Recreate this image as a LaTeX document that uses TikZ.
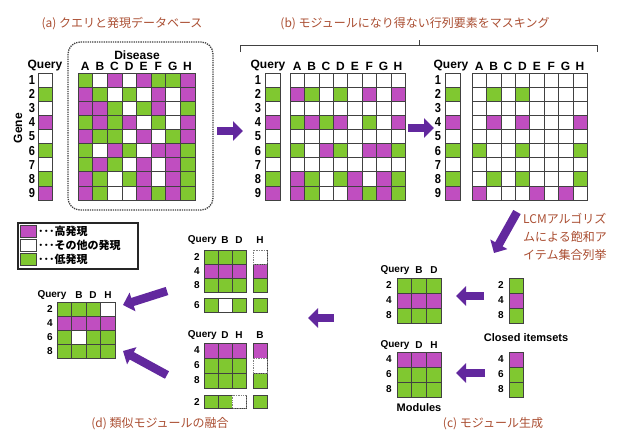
\documentclass[tikz,border=0pt]{standalone}
\usepackage{fontspec}
\setmainfont{Liberation Sans}
\newfontfamily\jp{Noto Sans CJK JP}
\usetikzlibrary{arrows.meta}
\definecolor{M}{RGB}{192,78,192}
\definecolor{G}{RGB}{128,200,48}
\definecolor{W}{RGB}{255,255,255}
\definecolor{titlec}{RGB}{170,78,50}
\definecolor{arrowc}{RGB}{98,40,158}
\definecolor{gridc}{RGB}{65,65,65}
\newcommand{\mgrid}[5]{%
  \foreach \rowlist [count=\ri from 0] in {#5} {
    \foreach \cc [count=\ci from 0] in \rowlist {
      \filldraw[cell, fill=\cc] ({#1+\ci*#3},{#2+\ri*#4}) rectangle ++(#3,#4);
    }
  }
}
\newcommand{\dcell}[4]{\filldraw[fill=white, draw=gray, densely dotted, line width=0.7pt] (#1,#2) rectangle ++(#3,#4);}
\begin{document}
\begin{tikzpicture}[x=1pt,y=-1pt,
  cell/.style={draw=gridc, line width=0.6pt},
  lab/.style={font=\bfseries\fontsize{12}{12}\selectfont, inner sep=0pt},
  num/.style={font=\bfseries\fontsize{13}{13}\selectfont, inner sep=0pt, xscale=0.85},
  slab/.style={font=\bfseries\fontsize{10}{10}\selectfont, inner sep=0pt},
  title/.style={font=\jp\fontsize{12}{12}\selectfont, text=titlec, inner sep=0pt},
  legtext/.style={font=\jp\bfseries\fontsize{11}{11}\selectfont, anchor=west, inner sep=0pt},
  barrow/.style={draw=arrowc, line width=8.5pt, -{Triangle[length=10pt,width=19pt]}},
]
\useasboundingbox (0,0) rectangle (619,437);

% ---------- titles
\node[title] (ta) at (122,24) {(a) クエリと発現データベース};
\node[title] (tb) at (415,24) {(b) モジュールになり得ない行列要素をマスキング};
\node[title] (tc) at (493,424) {(c) モジュール生成};
\node[title] (td) at (160,424) {(d) 類似モジュールの融合};

% ---------- panel (a)
\draw[gridc, densely dotted, line width=1.3pt, rounded corners=12pt] (68,42) rectangle (213,210);
\node[lab] (adis) at (137,55) {Disease};
\node[lab] (aq) at (45,66) {Query};
\node[lab, rotate=90] (gene) at (18,128) {Gene};
\foreach \L [count=\i from 0] in {A,B,C,D,E,F,G,H}
  \node[lab] (acol\i) at ({78+14.6*\i+7.3},66) {\L};
\foreach \n [count=\i from 0] in {1,...,9}
  \node[num] (arow\i) at (32,{73+14.1*\i+7.05}) {\n};
\mgrid{38}{73}{14.5}{14.1}{{W},{G},{W},{M},{W},{G},{W},{G},{M}}
\mgrid{78}{73}{14.6}{14.1}{
 {G,W,M,W,M,G,G,M},
 {M,G,W,G,W,M,W,M},
 {M,M,G,W,G,M,W,G},
 {G,M,G,M,W,G,W,M},
 {M,G,G,W,M,W,G,M},
 {G,W,M,G,W,M,M,G},
 {G,M,G,W,M,W,M,G},
 {M,G,W,G,M,W,M,G},
 {M,G,W,W,M,G,M,G}}

% ---------- bracket (b)
\draw[gridc, line width=0.9pt] (240,52) -- (240,45) -- (597,45) -- (597,52);
\draw[gridc, line width=0.9pt] (419,45) -- (419,40);

% ---------- panel (b) first
\node[lab] (bq) at (268,66) {Query};
\foreach \L [count=\i from 0] in {A,B,C,D,E,F,G,H}
  \node[lab] (bcol\i) at ({290+14.4*\i+7.2},66) {\L};
\foreach \n [count=\i from 0] in {1,...,9}
  \node[num] (brow\i) at (258,{73+14.1*\i+7.05}) {\n};
\mgrid{265}{73}{15}{14.1}{{W},{G},{W},{M},{W},{G},{W},{G},{M}}
\mgrid{290}{73}{14.4}{14.1}{
 {W,W,W,W,W,W,W,W},
 {M,G,W,G,W,M,W,M},
 {W,W,W,W,W,W,W,W},
 {G,M,G,M,W,G,W,M},
 {W,W,W,W,W,W,W,W},
 {G,W,M,G,W,M,M,G},
 {W,W,W,W,W,W,W,W},
 {M,G,W,G,M,W,M,G},
 {M,G,W,W,M,G,M,G}}

% ---------- panel (b) second
\node[lab] (cq) at (451,66) {Query};
\foreach \L [count=\i from 0] in {A,B,C,D,E,F,G,H}
  \node[lab] (ccol\i) at ({472+14.4*\i+7.2},66) {\L};
\foreach \n [count=\i from 0] in {1,...,9}
  \node[num] (crow\i) at (438,{73+14.1*\i+7.05}) {\n};
\mgrid{445}{73}{15}{14.1}{{W},{G},{W},{M},{W},{G},{W},{G},{M}}
\mgrid{472}{73}{14.4}{14.1}{
 {W,W,W,W,W,W,W,W},
 {W,G,W,G,W,W,W,W},
 {W,W,W,W,W,W,W,W},
 {W,M,W,M,W,W,W,M},
 {W,W,W,W,W,W,W,W},
 {G,W,W,G,W,W,W,G},
 {W,W,W,W,W,W,W,W},
 {W,G,W,G,W,W,W,G},
 {M,W,W,W,M,W,M,W}}

% ---------- LCM text
\node[title, anchor=north west, align=left, font=\jp\fontsize{12}{18}\selectfont] (lcm) at (523,213) {LCMアルゴリズ\\ムによる飽和ア\\イテム集合列挙};

% ---------- panel (c): closed itemsets
\foreach \n/\y in {2/285,4/300,8/315} \node[slab] (k1\n) at (501,\y) {\n};
\mgrid{509}{278}{14}{15}{{G},{M},{G}}
\foreach \n/\y in {4/359,6/374,8/389} \node[slab] (k2\n) at (501,\y) {\n};
\mgrid{509}{352}{14}{15}{{M},{G},{G}}
\node[lab, font=\bfseries\fontsize{11}{11}\selectfont] (closed) at (526,338) {Closed itemsets};

% modules
\node[slab] (m1q) at (395,270) {Query};
\node[slab] (m1b) at (419,270) {B};
\node[slab] (m1d) at (434,270) {D};
\foreach \n/\y in {2/285,4/300,8/315} \node[slab] (m1r\n) at (389,\y) {\n};
\mgrid{397}{278}{14.7}{15}{{G,G,G},{M,M,M},{G,G,G}}
\node[slab] (m2q) at (395,345) {Query};
\node[slab] (m2d) at (419,345) {D};
\node[slab] (m2h) at (434,345) {H};
\foreach \n/\y in {4/359,6/374,8/389} \node[slab] (m2r\n) at (389,\y) {\n};
\mgrid{397}{352}{14.7}{15}{{M,M,M},{G,G,G},{G,G,G}}
\node[lab, font=\bfseries\fontsize{11}{11}\selectfont] (modules) at (419,408) {Modules};

% ---------- panel (d) middle
\node[slab, anchor=east] (x1q) at (217,240) {Query};
\node[slab] (x1b) at (225,240) {B};
\node[slab] (x1d) at (239,240) {D};
\node[slab] (x1h) at (260,240) {H};
\foreach \n/\y in {2/257,4/271,8/285,6/305} \node[slab] (x1r\n) at (197,\y) {\n};
\mgrid{204}{250}{14}{14}{{G,G,G},{M,M,M},{G,G,G}}
\mgrid{253}{250}{14}{14}{{W},{M},{G}}
\dcell{253}{250}{14}{14}
\mgrid{204}{298}{14}{14}{{G,W,G}}
\mgrid{253}{298}{14}{14}{{G}}

\node[slab, anchor=east] (x2q) at (217,335) {Query};
\node[slab] (x2d) at (225,335) {D};
\node[slab] (x2h) at (239,335) {H};
\node[slab] (x2b) at (260,335) {B};
\foreach \n/\y in {4/350,6/365,8/380,2/402} \node[slab] (x2r\n) at (197,\y) {\n};
\mgrid{204}{343}{14}{15}{{M,M,M},{G,G,G},{G,G,G}}
\mgrid{253}{343}{14}{15}{{M},{W},{G}}
\dcell{253}{358}{14}{15}
\mgrid{204}{395}{14}{13}{{G,G,W}}
\dcell{232}{395}{14}{13}
\mgrid{253}{395}{14}{13}{{G}}

% ---------- panel (d) result
\node[slab] (fq) at (52,295) {Query};
\node[slab] (fb) at (79,295) {B};
\node[slab] (fd) at (93,295) {D};
\node[slab] (fh) at (108,295) {H};
\foreach \n/\y in {2/309,4/323,6/337,8/351} \node[slab] (fr\n) at (50,\y) {\n};
\mgrid{57}{302}{14.5}{14}{{G,G,G,W},{M,M,M,M},{G,W,G,G},{G,G,G,G}}

% ---------- legend
\node[draw=black!85, line width=1.8pt, minimum width=120pt, minimum height=46pt, anchor=north west, inner sep=0pt] (legend) at (17,222) {};
\filldraw[cell, fill=M] (20,225) rectangle (36,237);
\filldraw[cell, fill=W] (20,239) rectangle (36,251);
\filldraw[cell, fill=G] (20,253) rectangle (36,265);
\node[legtext] (l1) at (38,231) {･･･高発現};
\node[legtext] (l2) at (38,245) {･･･その他の発現};
\node[legtext] (l3) at (38,259) {･･･低発現};

% ---------- block arrows
\coordinate (a1s) at (217,131); \coordinate (a1e) at (243,131);
\coordinate (a2s) at (408,128); \coordinate (a2e) at (434,128);
\coordinate (a3s) at (517,212); \coordinate (a3e) at (494,253);
\coordinate (a4s) at (484,296); \coordinate (a4e) at (456,296);
\coordinate (a5s) at (485,373); \coordinate (a5e) at (456,373);
\coordinate (a6s) at (334,318); \coordinate (a6e) at (308,318);
\coordinate (a7s) at (167,291); \coordinate (a7e) at (123,305);
\coordinate (a8s) at (167,375); \coordinate (a8e) at (123,351);
\foreach \k in {1,...,8} \draw[barrow] (a\k s) -- (a\k e);
\end{tikzpicture}
\end{document}
